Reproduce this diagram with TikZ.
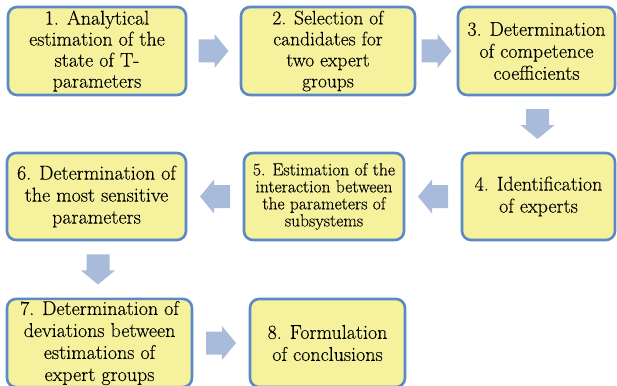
\documentclass[tikz,border=0pt]{standalone}
\usepackage{fontspec}
\newfontfamily\boxfont{Latin Modern Roman}[FakeBold=0.2]
\definecolor{boxfill}{HTML}{F6F19C}
\definecolor{boxline}{HTML}{5A8AC6}
\definecolor{arrcol}{HTML}{A9BBDA}
\tikzset{
  stepbox/.style={draw=boxline, fill=boxfill, line width=2.6pt, rounded corners=9pt,
    align=center, inner sep=2pt, font=\boxfont\fontsize{20}{22}\selectfont},
  blockarrow/.pic={\fill[arrcol] (-15,-11.5) -- (1,-11.5) -- (1,-17) -- (15,0) -- (1,17) -- (1,11.5) -- (-15,11.5) -- cycle;}
}
\begin{document}
\begin{tikzpicture}[x=1pt,y=-1pt]
\useasboundingbox (0,0) rectangle (617,385);
\node[stepbox, minimum width=178pt, minimum height=88pt, font=\boxfont\fontsize{20}{21}\selectfont] (b1) at (97,51)
  {1. Analytical\\estimation of the\\state of T-\\parameters};
\node[stepbox, minimum width=174pt, minimum height=88pt, font=\boxfont\fontsize{19.5}{21}\selectfont] (b2) at (328,51)
  {2. Selection of\\candidates for\\two expert\\groups};
\node[stepbox, minimum width=157pt, minimum height=88pt] (b3) at (536.5,51)
  {3. Determination\\of competence\\coefficients};
\node[stepbox, minimum width=153pt, minimum height=87pt] (b4) at (538.5,196.5)
  {4. Identification\\of experts};
\node[stepbox, minimum width=160pt, minimum height=87pt, font=\boxfont\fontsize{17.5}{17}\selectfont] (b5) at (324,196.5)
  {5. Estimation of the\\interaction between\\the parameters of\\subsystems};
\node[stepbox, minimum width=179pt, minimum height=87pt] (b6) at (96.5,196.5)
  {6. Determination of\\the most sensitive\\parameters};
\node[stepbox, minimum width=185pt, minimum height=88pt] (b7) at (99.5,343)
  {7. Determination of\\deviations between\\estimations of\\expert groups};
\node[stepbox, minimum width=155pt, minimum height=88pt] (b8) at (327.5,343)
  {8. Formulation\\of conclusions};
\path (b1.east) -- (b2.west) coordinate[pos=0.5] (m12);
\path (b2.east) -- (b3.west) coordinate[pos=0.5] (m23);
\path (b3.south) -- (b4.north) coordinate[pos=0.5] (m34);
\path (b4.west) -- (b5.east) coordinate[pos=0.5] (m45);
\path (b5.west) -- (b6.east) coordinate[pos=0.5] (m56);
\path (b6.south) -- (b7.north) coordinate[pos=0.5] (m67);
\path (b7.east) -- (b8.west) coordinate[pos=0.5] (m78);
\pic at (m12) {blockarrow};
\pic at (m23) {blockarrow};
\pic[rotate=-90] at (m34) {blockarrow};
\pic[rotate=180] at (m45) {blockarrow};
\pic[rotate=180] at (m56) {blockarrow};
\pic[rotate=-90] at (m67) {blockarrow};
\pic at (m78) {blockarrow};
\end{tikzpicture}
\end{document}
